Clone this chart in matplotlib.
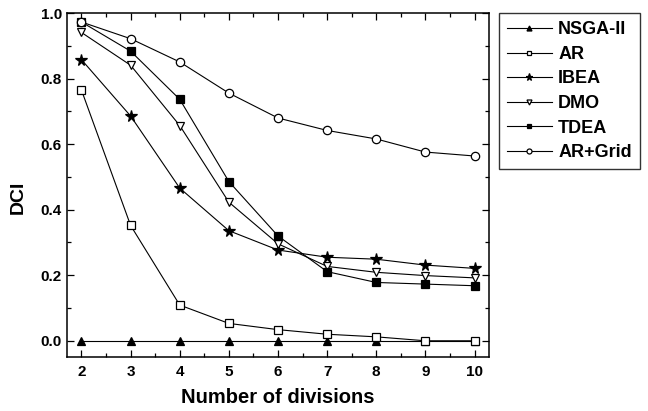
import matplotlib
matplotlib.use('Agg')
import matplotlib.pyplot as plt
from matplotlib.ticker import MultipleLocator

plt.rcParams['font.family'] = ['Liberation Sans', 'DejaVu Sans']
plt.rcParams['font.weight'] = 'bold'

# Data
divisions = [2, 3, 4, 5, 6, 7, 8, 9, 10]
nsga2 = [0.0, 0.0, 0.0, 0.0, 0.0, 0.0, 0.0, 0.0, 0.0]
ar = [0.765, 0.352, 0.109, 0.053, 0.034, 0.020, 0.012, 0.0, 0.0]
ibea = [0.858, 0.686, 0.466, 0.336, 0.277, 0.255, 0.249, 0.231, 0.221]
dmo = [0.941, 0.841, 0.657, 0.423, 0.296, 0.227, 0.209, 0.199, 0.192]
tdea = [0.973, 0.884, 0.737, 0.486, 0.320, 0.211, 0.178, 0.173, 0.168]
ar_grid = [0.973, 0.922, 0.851, 0.756, 0.680, 0.642, 0.616, 0.576, 0.564]

series = [
    ('NSGA-II', nsga2, '^', 'black'),
    ('AR', ar, 's', 'white'),
    ('IBEA', ibea, '*', 'black'),
    ('DMO', dmo, 'v', 'white'),
    ('TDEA', tdea, 's', 'black'),
    ('AR+Grid', ar_grid, 'o', 'white'),
]

fig = plt.figure(figsize=(6.48, 4.11), dpi=100)
ax = fig.add_axes([0.103, 0.131, 0.652, 0.837])

for name, vals, mk, fc in series:
    ms = 8.5 if mk == '*' else 6
    ax.plot(divisions, vals, color='black', lw=0.8, marker=mk, ms=ms,
            mfc=fc, mec='black', mew=0.9, label=name)

ax.set_xlim(1.7, 10.3)
ax.set_ylim(-0.05, 1.0)
ax.xaxis.set_major_locator(MultipleLocator(1))
ax.xaxis.set_minor_locator(MultipleLocator(0.5))
ax.yaxis.set_major_locator(MultipleLocator(0.2))
ax.yaxis.set_minor_locator(MultipleLocator(0.1))
ax.yaxis.set_major_formatter(plt.FormatStrFormatter('%.1f'))
ax.tick_params(which='both', direction='in', top=True, right=True, labelsize=11, width=0.9)
ax.tick_params(axis='x', which='major', pad=6)
ax.tick_params(which='major', length=5)
ax.tick_params(which='minor', length=3)
for s in ax.spines.values():
    s.set_linewidth(1.1)

ax.set_xlabel('Number of divisions', fontsize=14.5, fontweight='bold', labelpad=6)
ax.set_ylabel('DCI', fontsize=14, fontweight='bold')
ax.yaxis.set_label_coords(-0.095, 0.465)

leg = ax.legend(loc='upper left', bbox_to_anchor=(1.022, 1.0), fancybox=False,
                edgecolor='black', fontsize=13, handlelength=2.5, markerscale=0.6,
                borderpad=0.45, borderaxespad=0.0, labelspacing=0.42, handletextpad=0.35)
leg.get_frame().set_linewidth(1.0)

fig.savefig('out.png', dpi=100)
